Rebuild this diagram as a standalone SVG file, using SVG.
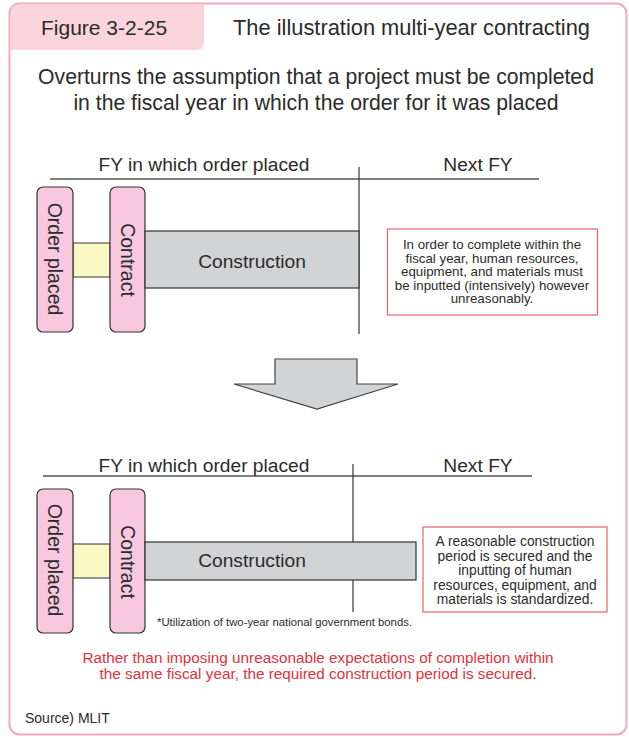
<svg xmlns="http://www.w3.org/2000/svg" width="629" height="737" viewBox="0 0 629 737">
  <style>
    text { font-family: "Liberation Sans", Arial, sans-serif; fill: #2b2b2b; }
    .title { font-size: 21px; }
    .title-wide { font-size: 21.85px; }
    .sub { font-size: 21.2px; text-anchor: middle; }
    .fy { font-size: 19.2px; text-anchor: middle; }
    .vlabel { font-size: 19.5px; text-anchor: middle; }
    .note { font-size: 13.3px; text-anchor: middle; }
    .note2 { font-size: 13.8px; text-anchor: middle; }
    .red { fill: #e0323c; font-size: 15.3px; text-anchor: middle; }
    .step { fill: #f8c9de; stroke: #333; stroke-width: 1.2; }
    .gap { fill: #fbf8c4; stroke: #333; stroke-width: 1; }
    .work { fill: #d2d3d5; stroke: #333; stroke-width: 1.2; }
    .callout { fill: #fff; stroke: #e8636c; stroke-width: 1.2; }
    .axis { stroke: #555; stroke-width: 1.3; fill: none; }
    .tick { stroke: #333; stroke-width: 1.2; fill: none; }
  </style>

  <!-- frame and heading tab -->
  <g id="frame">
    <rect x="9.5" y="3.5" width="617" height="731" rx="10" fill="#fff" stroke="#f4a9bb" stroke-width="2"/>
    <path d="M10.5 13 Q10.5 4.5 19 4.5 H204 V42 Q204 50 196 50 H10.5 Z" fill="#f9d4dc"/>
    <text class="title" x="41" y="35">Figure 3-2-25</text>
    <text class="title-wide" x="233" y="35">The illustration multi-year contracting</text>
    <text class="sub" x="316" y="84">Overturns the assumption that a project must be completed</text>
    <text class="sub" x="316" y="110">in the fiscal year in which the order for it was placed</text>
  </g>

  <!-- timeline: single-year case -->
  <g id="timeline-top">
    <line class="axis" x1="50" y1="179" x2="539" y2="179"/>
    <line class="tick" x1="359" y1="167" x2="359" y2="334"/>
    <text class="fy" x="204" y="171">FY in which order placed</text>
    <text class="fy" x="478" y="171">Next FY</text>
  </g>

  <g id="gap-top"><rect class="gap" x="73" y="243" width="37" height="34"/></g>
  <g id="order-top">
    <rect class="step" x="37" y="187" width="36" height="145" rx="6"/>
    <text class="vlabel" transform="translate(48 259) rotate(90)">Order placed</text>
  </g>
  <g id="contract-top">
    <rect class="step" x="110" y="187" width="35" height="145" rx="6"/>
    <text class="vlabel" transform="translate(120.5 260) rotate(90)">Contract</text>
  </g>
  <g id="construction-top">
    <rect class="work" x="145" y="231" width="214" height="57"/>
    <text class="fy" x="252" y="268">Construction</text>
  </g>
  <g id="note-top">
    <rect class="callout" x="387.5" y="229" width="210" height="86"/>
    <text class="note" x="492" y="249">In order to complete within the</text>
    <text class="note" x="492" y="262.5">fiscal year, human resources,</text>
    <text class="note" x="492" y="276">equipment, and materials must</text>
    <text class="note" x="492" y="289.5">be inputted (intensively) however</text>
    <text class="note" x="492" y="303">unreasonably.</text>
  </g>

  <!-- transition arrow -->
  <g id="arrow">
    <path d="M275 359 H357 V384 H398 L317 409 L234 384 H275 Z" fill="#d2d3d5" stroke="#444" stroke-width="1.2"/>
  </g>

  <!-- timeline: multi-year case -->
  <g id="timeline-bottom">
    <line class="axis" x1="43" y1="476" x2="532" y2="476" stroke="#333"/>
    <line class="tick" x1="353" y1="464" x2="353" y2="612" stroke="#666"/>
    <text class="fy" x="204" y="472">FY in which order placed</text>
    <text class="fy" x="478" y="472">Next FY</text>
  </g>

  <g id="gap-bottom"><rect class="gap" x="73" y="544" width="37" height="34"/></g>
  <g id="order-bottom">
    <rect class="step" x="37" y="489" width="36" height="144" rx="6"/>
    <text class="vlabel" transform="translate(48 560) rotate(90)">Order placed</text>
  </g>
  <g id="contract-bottom">
    <rect class="step" x="110" y="489" width="35" height="144" rx="6"/>
    <text class="vlabel" transform="translate(120.5 562) rotate(90)">Contract</text>
  </g>
  <g id="construction-bottom">
    <rect class="work" x="145" y="542" width="271" height="38"/>
    <text class="fy" x="252" y="567">Construction</text>
  </g>
  <g id="bond-note">
    <text x="157" y="626" font-size="11.3">*Utilization of two-year national government bonds.</text>
  </g>
  <g id="note-bottom">
    <rect class="callout" x="423" y="527" width="184" height="85"/>
    <text class="note2" x="515" y="546">A reasonable construction</text>
    <text class="note2" x="515" y="560.5">period is secured and the</text>
    <text class="note2" x="515" y="575">inputting of human</text>
    <text class="note2" x="515" y="589.5">resources, equipment, and</text>
    <text class="note2" x="515" y="604">materials is standardized.</text>
  </g>

  <!-- conclusion and source -->
  <g id="conclusion">
    <text class="red" x="318" y="663">Rather than imposing unreasonable expectations of completion within</text>
    <text class="red" x="318" y="679">the same fiscal year, the required construction period is secured.</text>
  </g>
  <g id="source">
    <text x="25" y="723" font-size="14">Source) MLIT</text>
  </g>
</svg>
